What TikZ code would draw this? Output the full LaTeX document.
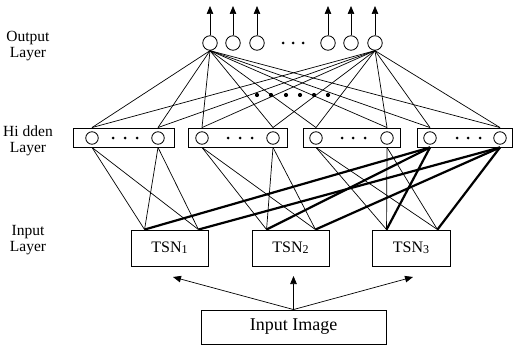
\documentclass[tikz,border=0pt]{standalone}
\usepackage{fontspec}
\setmainfont{Liberation Serif}
\usetikzlibrary{arrows.meta,calc}
\begin{document}
\begin{tikzpicture}[x=1pt,y=-1pt,
  neuron/.style={circle,draw,line width=0.8pt,minimum size=14.5pt,inner sep=0pt},
  hneuron/.style={circle,draw,line width=0.8pt,minimum size=12.5pt,inner sep=0pt},
  layerbox/.style={draw,line width=0.9pt,inner sep=0pt},
  tsnbox/.style={draw,line width=0.9pt,inner sep=0pt,minimum height=36pt,font=\fontsize{16}{18}\selectfont},
  smalldot/.style={circle,fill,inner sep=0pt,minimum size=3pt},
  bigdot/.style={circle,fill,inner sep=0pt,minimum size=4.2pt},
  conn/.style={line width=0.7pt},
  thickconn/.style={line width=2.2pt},
  arr/.style={-{Triangle[length=8pt,width=6.5pt]},line width=0.7pt},
  lbl/.style={align=center,font=\fontsize{15.5}{16.5}\selectfont}
]
\useasboundingbox (0,0) rectangle (514,345);

% labels
\node[lbl] (lout) at (28,46) {Output\\Layer};
\node[lbl] (lhid) at (28,141) {Hi dden\\Layer};
\node[lbl] (linp) at (28,240) {Input\\Layer};

% output layer
\foreach \n/\x in {1/210,2/233,3/257,4/328,5/351,6/375}{
  \node[neuron] (o\n) at (\x,43) {};
  \coordinate (oa\n) at (\x,6);
  \draw[arr] (o\n) -- (oa\n);
}
\foreach \n/\x in {1/283,2/293,3/303}{\node[smalldot] (od\n) at (\x,43) {};}

% hidden layer boxes
\node[layerbox,minimum width=101pt,minimum height=19pt] (h1) at (123.5,137.5) {};
\node[layerbox,minimum width=99pt,minimum height=19pt] (h2) at (237.5,137.5) {};
\node[layerbox,minimum width=97pt,minimum height=19pt] (h3) at (351.5,137.5) {};
\node[layerbox,minimum width=95pt,minimum height=19pt] (h4) at (464.5,137.5) {};

\foreach \b/\xa/\xb/\da/\db/\dc in {1/92/158/113/125/137, 2/202/273/228/240/252, 3/316/387/342/353/365, 4/430/500/457/468/480}{
  \node[hneuron] (h\b a) at (\xa,138) {};
  \node[hneuron] (h\b b) at (\xb,138) {};
  \node[smalldot] (hd\b a) at (\da,138) {};
  \node[smalldot] (hd\b b) at (\db,138) {};
  \node[smalldot] (hd\b c) at (\dc,138) {};
  \coordinate (h\b at) at (h\b a |- h\b.north);
  \coordinate (h\b bt) at (h\b b |- h\b.north);
  \coordinate (h\b ab) at (h\b a |- h\b.south);
  \coordinate (h\b bb) at (h\b b |- h\b.south);
}

% output to hidden connections
\foreach \o in {1,6}{
  \foreach \b in {1,2,3,4}{
    \draw[conn] (o\o.south) -- (h\b at);
    \draw[conn] (o\o.south) -- (h\b bt);
  }
}
\foreach \n/\x in {1/257,2/271,3/286,4/300,5/314,6/328}{\node[bigdot] (md\n) at (\x,95) {};}

% input layer
\node[tsnbox,minimum width=77pt] (t1) at (169.5,248) {TSN\raisebox{-0.08em}{\fontsize{12}{12}\selectfont 1}};
\node[tsnbox,minimum width=77pt] (t2) at (290.5,248) {TSN\raisebox{-0.08em}{\fontsize{12}{12}\selectfont 2}};
\node[tsnbox,minimum width=78pt] (t3) at (411,248) {TSN\raisebox{-0.08em}{\fontsize{12}{12}\selectfont 3}};
\coordinate (t1L) at ($(t1.north west)+(14,0)$);
\coordinate (t1R) at ($(t1.north east)+(-10,0)$);
\coordinate (t2L) at ($(t2.north west)+(15,0)$);
\coordinate (t2R) at ($(t2.north east)+(-14,0)$);
\coordinate (t3L) at ($(t3.north west)+(15,0)$);
\coordinate (t3R) at ($(t3.north east)+(-13,0)$);

% hidden to input (thin)
\foreach \b in {1,2,3}{
  \draw[conn] (h\b ab) -- (t\b L);
  \draw[conn] (h\b ab) -- (t\b R);
  \draw[conn] (h\b bb) -- (t\b L);
  \draw[conn] (h\b bb) -- (t\b R);
}
% hidden box 4 to input (thick)
\foreach \t in {1,2,3}{
  \draw[thickconn] (h4ab) -- (t\t L);
  \draw[thickconn] (h4bb) -- (t\t R);
}

% input image
\node[draw,line width=0.9pt,minimum width=185pt,minimum height=34pt,inner sep=0pt,font=\fontsize{18}{20}\selectfont] (img) at (293.5,327) {Input Image};
\coordinate (a1) at (173,277);
\coordinate (a2) at (293.5,276);
\coordinate (a3) at (413,277);
\foreach \n in {1,2,3}{\draw[arr] (img.north) -- (a\n);}
\end{tikzpicture}
\end{document}
